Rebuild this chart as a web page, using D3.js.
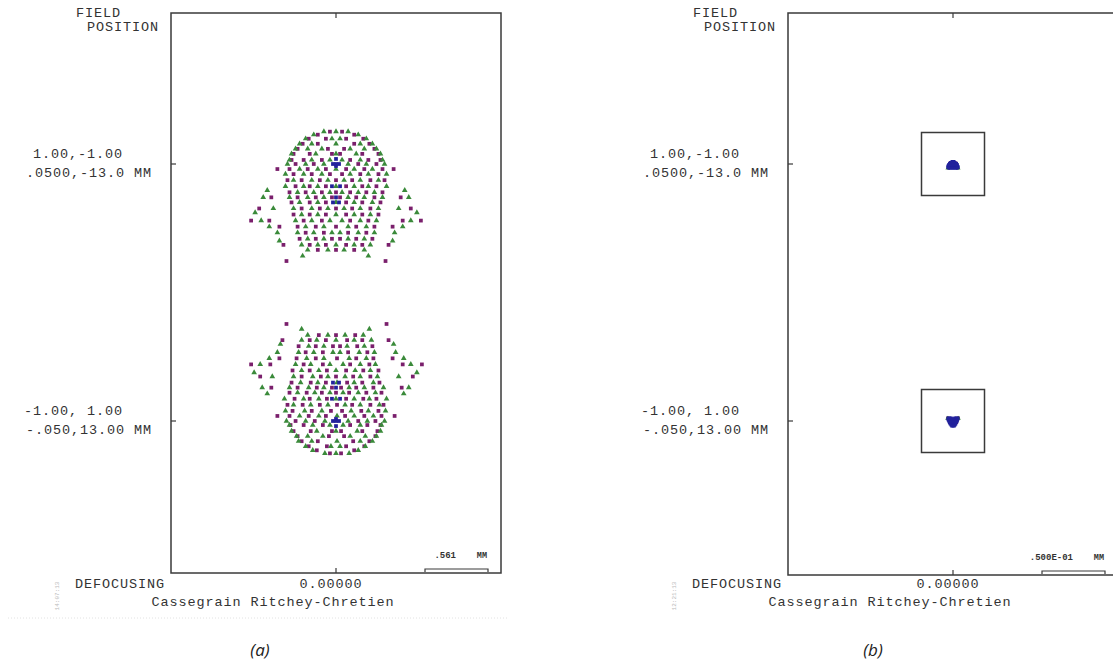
<!DOCTYPE html>
<html><head><meta charset="utf-8">
<script src="https://cdn.jsdelivr.net/npm/d3@7"></script>
<style>body{margin:0;background:#fff}svg{display:block}</style>
</head><body>
<svg id="c" width="1113" height="670"></svg>
<script>
// ---------- DATA ----------
const fieldLabels = ["1.00,-1.00", "-1.00, 1.00"];
const fieldObjects = [".0500,-13.0 MM", "-.050,13.00 MM"];
const defocusLabel = "0.00000";
const title = "Cassegrain Ritchey-Chretien";
const scaleBarValues = [561, 50];            // micrometres (.561 MM, .500E-01 MM)
const scaleBarLabels = [".561", ".500E-01"];
const refBoxSize = [null, 50];                // micrometres, panel (b) reference squares
const stamps = ["14:07:13", "12:21:13"];
const captions = ["(a)", "(b)"];

// spot intercepts in micrometres, rows of [y, x1, x2, ...]
// panel (a), field 1
const a1Purple = [
 [288,-54,54],[261,-162,162],[225,-243,-90,90,243],[180,-297,-162,162,297],
 [135,-342,-72,72,342],[90,-378,-234,-36,36,234,378],[36,-396,-288,-126,126,288,396],
 [0,-360,-198,198,360],[-45,-522,-414,-252,-90,90,252,414,513],[-90,-378,-216,-54,54,216,378],
 [-144,-432,-306,-144,0,144,306,432],[-198,-360,-234,-90,90,234,360],
 [-252,-414,-270,-126,0,126,270,414],[-297,-576,-342,-180,-36,36,180,342,576],
 [-342,-396,-234,-90,90,234,396],[-396,-684,-306,-144,0,144,306,666],
 [-450,-378,-234,-90,90,234,378],[-504,-756,-594,-288,-126,126,288,594,756],
 [-558,-504,-342,-180,0,180,342,504],[-612,-270,-108,108,270],
 [-666,-324,-180,-36,36,180,324],[-720,-468,-234,-90,90,234,468],
 [-765,-162,0,162],[-864,-441,441]
];
const a1Green = [
 [288,-108,0,108],[261,-198,198],[225,-270,-36,36,270],[180,-324,-216,0,216,324],
 [135,-360,-252,-126,126,252,360],[90,-396,-180,0,180,396],[36,-414,-216,-54,54,216,414],
 [0,-432,-270,-108,108,270,432],[-45,-324,-162,0,162,324],[-90,-450,-288,-126,126,288,450],
 [-144,-378,-216,-72,72,216,378],[-198,-450,-288,-162,0,162,288,450],[-234,-612,612],
 [-252,-342,-198,-54,54,198,342],[-297,-648,-414,-252,-108,108,252,414,648],
 [-342,-324,-162,0,162,324],[-396,-558,-378,-216,-72,72,216,378,558],[-432,-720,720],
 [-450,-306,-162,0,162,306],[-504,-666,-360,-216,-54,54,216,360,666],
 [-558,-594,-270,-108,108,270,594],[-612,-522,-342,-198,-36,36,198,342,522],
 [-666,-252,-108,108,252],[-684,-504,504],[-720,-306,-162,0,162,306],
 [-765,-252,-72,72,252],[-819,-297,288]
];
const a1Blue = [[0,-27,0,27],[45,0],[-18,0],[-198,-36,36],[-297,0],[-342,-27,27]];
// panel (a), field 2
const a2Purple = [
 [-288,-54,45],[-261,-171,162],[-225,-243,-81,90,252],[-180,-306,-162,153,297],
 [-135,-342,-63,72,351],[-90,-378,-225,-36,45,234,369],[-36,-405,-288,-117,126,279,396],
 [0,-360,-189,198,351],[45,-522,-414,-243,-90,81,252,405,522],[90,-387,-216,-45,54,225,378],
 [144,-432,-297,-144,9,144,306,423],[198,-369,-234,-81,90,243,360],
 [252,-414,-261,-126,0,117,270,405],[297,-576,-342,-171,-36,45,180,333,585],
 [342,-396,-225,-90,99,234,387],[396,-675,-306,-135,0,153,306,684],
 [450,-387,-234,-81,90,243,378],[504,-756,-585,-288,-117,126,297,594,765],
 [558,-504,-351,-180,9,180,333,504],[612,-270,-117,108,279],
 [666,-333,-180,-27,36,189,324],[720,-477,-234,-90,99,234,468],
 [765,-153,0,171],[864,-441,450]
];
const a2Green = [
 [-288,-99,0,117],[-261,-207,198],[-225,-270,-45,36,261],[-180,-333,-216,9,216,324],
 [-135,-351,-252,-117,126,261,360],[-90,-396,-171,0,189,396],[-36,-414,-207,-54,63,216,405],
 [0,-441,-270,-99,108,279,432],[45,-324,-153,9,162,333],[90,-450,-279,-126,135,288,441],
 [144,-378,-225,-72,81,216,387],[198,-459,-288,-153,0,162,297,450],[243,-612,603],
 [252,-342,-189,-54,63,198,351],[297,-657,-414,-243,-108,117,252,423,648],
 [342,-315,-162,9,162,333],[396,-567,-378,-207,-72,81,216,369,558],[432,-729,720],
 [450,-306,-153,0,171,306],[504,-675,-360,-225,-54,63,216,351,666],
 [558,-594,-261,-108,117,270,603],[612,-522,-333,-198,-27,36,207,342,531],
 [666,-243,-108,99,252],[684,-495,513],[720,-306,-171,0,162,315],
 [765,-252,-72,81,243],[819,-306,297]
];
const a2Blue = [[0,-27,0,27],[-45,0],[18,0],[198,-36,36],[297,0],[342,-27,27]];
// panel (b), field 1
const b1Blue = [
 [2.0,-0.8,0.8],[1.2,-2.0,-0.8,0.4,1.6],[0.4,-2.8,-1.6,-0.4,0.8,2.0,2.8],
 [-0.4,-3.4,-2.2,-1.0,0.2,1.4,2.6,3.4],[-1.2,-3.8,-2.6,-1.4,-0.2,1.0,2.2,3.4],
 [-2.0,-4.0,-2.8,-1.6,-0.4,0.8,2.0,3.2,4.0],[-2.8,-4.0,-2.4,-0.8,0.8,2.4,4.0],
 [-3.4,-3.2,-1.6,0,1.6,3.2]
];
const b1Purple = [[-3.0,-3.6,3.6],[0.8,-2.4,2.4]];
const b1Green = [[-3.4,-4.2,4.2]];
// panel (b), field 2
const b2Blue = [
 [2.4,-3.8,-2.6,-1.4,1.4,2.6,3.8],[1.6,-4.0,-2.8,-1.6,-0.4,0.4,1.6,2.8,4.0],
 [0.8,-3.8,-2.6,-1.4,-0.2,1.0,2.2,3.4],[0.0,-3.4,-2.2,-1.0,0.2,1.4,2.6,3.4],
 [-0.8,-3.0,-1.8,-0.6,0.6,1.8,3.0],[-1.6,-2.6,-1.4,-0.2,1.0,2.2],
 [-2.4,-2.2,-1.0,0.2,1.4,2.2],[-3.2,-1.6,-0.4,0.8,1.6],[-4.0,-1.0,0,1.0]
];
const b2Purple = [[2.4,-4.2,4.2],[-1.2,-2.8,2.8]];
const b2Green = [[2.0,-4.4,4.4]];

// ---------- LAYOUT / STYLE ----------
const colors = {purple:"#7a1f6c", green:"#3a8a3a", blue:"#22229c"};
const mono = "'Liberation Mono','Courier New',monospace";
const panels = [
 {left:171, top:13, bottom:573, width:330, spots:[
   {purple:a1Purple, green:a1Green, blue:a1Blue},{purple:a2Purple, green:a2Green, blue:a2Blue}], rightTicks:false},
 {left:788, top:13, bottom:575, width:330, spots:[
   {purple:b1Purple, green:b1Green, blue:b1Blue},{purple:b2Purple, green:b2Green, blue:b2Blue}], rightTicks:true}
];
const barPx = 63;

const expand = rows => rows.flatMap(r => r.slice(1).map(x => ({x, y:r[0]})));

const svg = d3.select("#c");
const stroke = "#3a3a3a";

panels.forEach((p, i) => {
  const g = svg.append("g");
  const cx = p.left + p.width/2;
  const half = scaleBarValues[i] * (p.width/2) / barPx;
  const sx = d3.scaleLinear().domain([-half, half]).range([p.left, p.left + p.width]);
  const sOff = d3.scaleLinear().domain([-half, half]).range([p.width/2, -p.width/2]);
  const fy = d3.scalePoint().domain(fieldLabels).range([164, 421]);

  g.append("rect").attr("x", p.left).attr("y", p.top).attr("width", p.width)
   .attr("height", p.bottom - p.top).attr("fill", "none").attr("stroke", stroke).attr("stroke-width", 1.5);
  g.append("line").attr("x1", sx(0)).attr("x2", sx(0)).attr("y1", p.top).attr("y2", p.top + 5).attr("stroke", stroke).attr("stroke-width", 1.2);
  g.append("line").attr("x1", sx(0)).attr("x2", sx(0)).attr("y1", p.bottom).attr("y2", p.bottom - 5).attr("stroke", stroke).attr("stroke-width", 1.2);

  fieldLabels.forEach((f, k) => {
    const y = fy(f);
    g.append("line").attr("x1", p.left).attr("x2", p.left + 5).attr("y1", y).attr("y2", y).attr("stroke", stroke).attr("stroke-width", 1.2);
    if (p.rightTicks) g.append("line").attr("x1", p.left + p.width).attr("x2", p.left + p.width - 5).attr("y1", y).attr("y2", y).attr("stroke", stroke).attr("stroke-width", 1.2);
    g.append("text").attr("x", p.left - 48).attr("y", y - 6).attr("text-anchor", "end").text(f);
    g.append("text").attr("x", p.left - 19).attr("y", y + 13).attr("text-anchor", "end").text(fieldObjects[k]);

    if (refBoxSize[i]) {
      const h = refBoxSize[i] / 2;
      g.append("rect").attr("x", sx(-h)).attr("y", y + sOff(h)).attr("width", sx(h) - sx(-h))
       .attr("height", sOff(-h) - sOff(h)).attr("fill", "none").attr("stroke", stroke).attr("stroke-width", 1.5);
    }

    const spot = p.spots[k];
    const sym = {
      purple: d3.symbol().type(d3.symbolSquare).size(i === 1 ? 9 : 14),
      green: d3.symbol().type(d3.symbolTriangle).size(i === 1 ? 9 : 14),
      blue: d3.symbol().type(d3.symbolSquare).size(i === 1 ? 9 : 14)
    };
    ["purple", "green", "blue"].forEach(c => {
      g.append("g").selectAll("path").data(expand(spot[c])).join("path")
       .attr("d", sym[c])
       .attr("transform", d => `translate(${sx(d.x)},${y + sOff(d.y)})`)
       .attr("fill", colors[c]);
    });
  });

  g.append("text").attr("x", p.left - 95).attr("y", 17).text("FIELD");
  g.append("text").attr("x", p.left - 84).attr("y", 31).text("POSITION");
  g.append("text").attr("x", p.left - 96).attr("y", 588).text("DEFOCUSING");
  g.append("text").attr("x", cx - 5).attr("y", 588).attr("text-anchor", "middle").text(defocusLabel);
  g.append("text").attr("x", cx - 63).attr("y", 606).attr("text-anchor", "middle").text(title);
  g.append("text").attr("transform", `translate(${p.left - 112},596) rotate(-90)`)
   .attr("text-anchor", "middle").attr("font-size", 6).attr("letter-spacing", 0).attr("fill", "#bbb").text(stamps[i]);

  const barEnd = p.left + p.width - 13;
  const barStart = barEnd - (sx(scaleBarValues[i]) - sx(0));
  const by = p.bottom - 4;
  g.append("path").attr("d", `M${barStart},${by + 3}V${by}H${barEnd}V${by + 3}`)
   .attr("fill", "none").attr("stroke", stroke).attr("stroke-width", 1.2);
  g.append("text").attr("x", barEnd - 32).attr("y", by - 11).attr("text-anchor", "end")
   .attr("font-size", 9).attr("letter-spacing", 0).attr("font-weight", "bold").text(scaleBarLabels[i]);
  g.append("text").attr("x", barEnd - 1).attr("y", by - 11).attr("text-anchor", "end")
   .attr("font-size", 8.5).attr("letter-spacing", 0).attr("font-weight", "bold").text("MM");

  svg.append("text").attr("x", i === 0 ? 260 : 873).attr("y", 656).attr("text-anchor", "middle")
   .attr("font-family", "'Open Sans',sans-serif").attr("font-style", "italic").attr("font-size", 17)
   .attr("fill", "#222").text(captions[i]);
});

svg.selectAll("text").filter(function(){return !this.getAttribute("font-family");})
  .attr("font-family", mono).attr("fill", function(){return this.getAttribute("fill") || "#333";})
  .attr("letter-spacing", function(){const v = this.getAttribute("letter-spacing"); return v === null ? 0.9 : v;})
  .attr("font-size", function(){return this.getAttribute("font-size") || 13.5;});

svg.append("line").attr("x1", 8).attr("x2", 507).attr("y1", 618).attr("y2", 618)
  .attr("stroke", "#e2e2e2").attr("stroke-dasharray", "1,2");
</script>
</body></html>
